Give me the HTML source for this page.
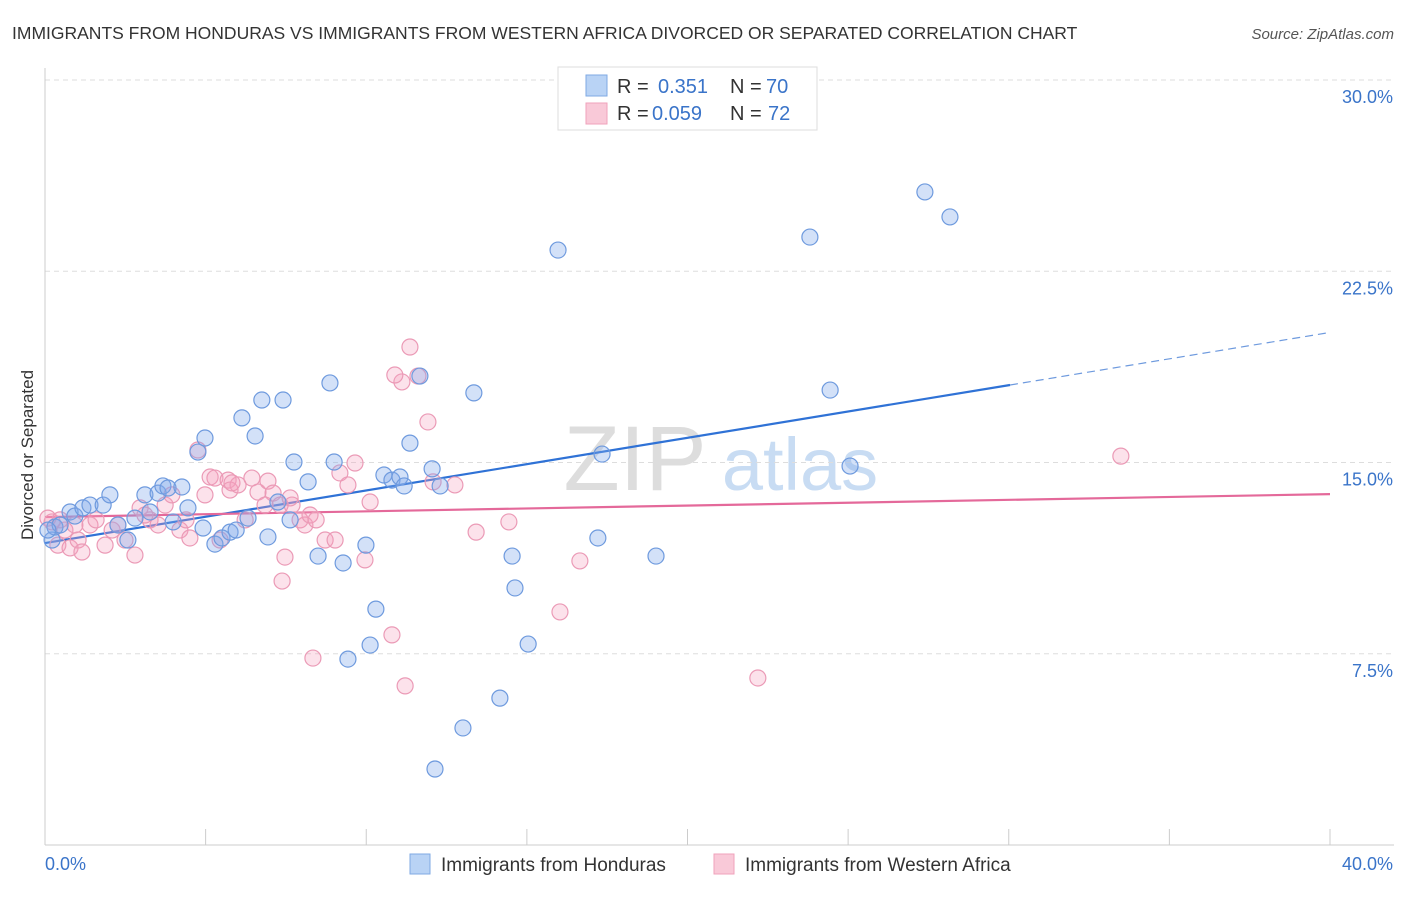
<!DOCTYPE html>
<html><head><meta charset="utf-8"><style>
body{margin:0;background:#fff;font-family:"Liberation Sans",sans-serif;}
svg text{font-family:"Liberation Sans",sans-serif;}
</style></head><body>
<svg id="chart" width="1406" height="892" viewBox="0 0 1406 892" xmlns="http://www.w3.org/2000/svg">
<text x="12" y="39" font-size="17.5" fill="#333">IMMIGRANTS FROM HONDURAS VS IMMIGRANTS FROM WESTERN AFRICA DIVORCED OR SEPARATED CORRELATION CHART</text>
<text x="1394" y="39" font-size="15" fill="#555" font-style="italic" text-anchor="end">Source: ZipAtlas.com</text>
<text x="33" y="455" font-size="17" fill="#333" text-anchor="middle" transform="rotate(-90 33 455)">Divorced or Separated</text>
<g><text x="635" y="490" font-size="92" fill="#ddd" text-anchor="middle" font-family="Liberation Serif,serif">ZIP</text><text x="800" y="490" font-size="74" fill="#c8dcf3" text-anchor="middle">atlas</text></g>
<g id="grid"></g><g id="axes"></g><g id="lines"></g><g id="pts"></g>
<g>
<rect x="558" y="67" width="259" height="63" fill="#fff" stroke="#ddd"/>
<rect x="586" y="75" width="21" height="21" fill="#b9d3f5" stroke="#7fa9e3"/>
<rect x="586" y="103" width="21" height="21" fill="#f9c9d8" stroke="#f0a2bb"/>
<text x="617" y="93" font-size="20" fill="#333">R = </text><text x="658" y="93" font-size="20" fill="#3a74c9">0.351</text>
<text x="730" y="93" font-size="20" fill="#333">N = </text><text x="766" y="93" font-size="20" fill="#3a74c9">70</text>
<text x="617" y="120" font-size="20" fill="#333">R = </text><text x="652" y="120" font-size="20" fill="#3a74c9">0.059</text>
<text x="730" y="120" font-size="20" fill="#333">N = </text><text x="768" y="120" font-size="20" fill="#3a74c9">72</text>
</g>
<g>
<rect x="410" y="854" width="20" height="20" fill="#b9d3f5" stroke="#7fa9e3"/>
<text x="441" y="871" font-size="19" fill="#333">Immigrants from Honduras</text>
<rect x="714" y="854" width="20" height="20" fill="#f9c9d8" stroke="#f0a2bb"/>
<text x="745" y="871" font-size="19" fill="#333">Immigrants from Western Africa</text>
</g>
</svg>
<script>
const yTicks=[7.5,15,22.5,30];
const yTickLabels=["7.5%","15.0%","22.5%","30.0%"];
const xTicks=[0,5,10,15,20,25,30,35,40];
const blueX=[0.22,0.31,0.47,0.78,0.93,1.18,1.40,1.81,2.02,2.27,2.58,2.80,3.11,3.27,3.52,3.67,3.83,3.99,4.26,4.45,4.76,4.98,4.92,5.29,5.51,5.76,5.95,6.13,6.32,6.54,6.75,6.94,7.25,7.41,7.63,7.75,8.19,8.50,8.87,9.00,9.28,9.43,9.99,10.30,10.12,10.55,10.80,11.05,11.18,11.36,11.67,12.05,12.30,13.35,14.54,14.63,15.04,14.16,13.01,12.14,15.97,17.21,17.34,19.02,23.81,24.44,25.06,27.39,28.17,0.09];
const blueY=[11.96,12.47,12.55,13.06,12.90,13.22,13.33,13.33,13.73,12.55,11.96,12.82,13.73,13.06,13.80,14.08,14.00,12.67,14.04,13.22,15.41,15.96,12.43,11.80,12.04,12.27,12.35,16.75,12.82,16.04,17.45,12.08,13.45,17.45,12.75,15.02,14.24,11.33,18.12,15.02,11.06,7.29,11.76,9.25,7.84,14.51,14.31,14.43,14.08,15.76,18.39,14.75,14.08,17.73,11.33,10.08,7.88,5.76,4.59,2.98,23.33,12.04,15.33,11.33,23.84,17.84,14.86,25.61,24.63,12.35];
const pinkX=[0.22,0.40,0.62,0.78,1.03,1.15,1.40,1.59,1.87,2.09,2.27,2.49,2.80,2.96,3.27,3.52,3.74,3.95,4.20,4.39,4.51,4.76,4.98,5.14,5.29,5.45,5.70,5.76,6.01,6.23,6.44,6.63,6.85,6.94,7.10,7.32,7.47,7.38,7.69,7.94,8.09,8.25,8.44,8.34,8.72,9.03,9.18,9.43,9.65,9.96,10.12,10.80,11.11,11.21,11.36,11.61,11.92,12.08,12.76,13.42,14.44,16.65,16.03,22.19,33.49,0.09,0.47,10.89,0.93,3.11,7.63,5.82];
const pinkY=[12.67,11.76,12.35,11.65,11.96,11.49,12.55,12.75,11.76,12.35,12.55,11.96,11.37,13.22,12.75,12.55,13.33,13.73,12.35,12.75,12.04,15.49,13.73,14.43,14.39,11.96,14.31,13.92,14.12,12.75,14.39,13.84,13.33,14.27,13.80,13.33,11.29,10.35,13.33,12.75,12.55,12.94,12.75,7.33,11.96,11.96,14.59,14.12,14.98,11.18,13.45,8.24,18.16,6.24,19.53,18.39,16.59,14.24,14.12,12.27,12.67,11.14,9.14,6.55,15.25,12.82,12.75,18.43,12.55,12.94,13.61,14.20];
const blueTrend=[11.84,18.04,20.1]; // at x=0, 30.04, 40
const blueTrendX=[0,30.04,40];
const pinkTrend=[12.86,13.76];
const NS="http://www.w3.org/2000/svg";
const sx=v=>45+v*32.125, sy=v=>845-v*25.5;
function mk(t,a,p){const e=document.createElementNS(NS,t);for(const k in a)e.setAttribute(k,a[k]);document.getElementById(p).appendChild(e);return e;}
yTicks.forEach((t,i)=>{
 const g=mk('line',{x1:45,x2:1394,y1:sy(t),y2:sy(t),stroke:'#ddd','stroke-dasharray':'5,4'},'grid');
 
 
 const l=mk('text',{x:1393,y:sy(t)+23,'font-size':18,fill:'#3a74c9','text-anchor':'end'},'axes');
 l.textContent=yTickLabels[i];
 
 
});
const ax=mk('line',{x1:45,x2:1394,y1:845,y2:845,stroke:'#ccc'},'axes');


const ay=mk('line',{x1:45,x2:45,y1:68,y2:845,stroke:'#ccc'},'axes');


xTicks.forEach(t=>{const k=mk('line',{x1:sx(t),x2:sx(t),y1:829,y2:845,stroke:'#ccc'},'axes');
 
 });
const x0=mk('text',{x:45,y:870,'font-size':18,fill:'#3a74c9'},'axes');x0.textContent='0.0%';


const x1=mk('text',{x:1393,y:870,'font-size':18,fill:'#3a74c9','text-anchor':'end'},'axes');x1.textContent='40.0%';


function dots(X,Y,fill,stroke,name){X.forEach((x,i)=>{const c=mk('circle',{cx:sx(x),cy:sy(Y[i]),r:8,fill:fill,stroke:stroke,'stroke-width':1.2},'pts');
 
 });}
dots(pinkX,pinkY,'rgba(244,160,190,0.3)','#eb9ab6','point-western-africa');
dots(blueX,blueY,'rgba(130,170,235,0.35)','#6e9ade','point-honduras');
const b1=mk('line',{x1:sx(blueTrendX[0]),y1:sy(blueTrend[0]),x2:sx(blueTrendX[1]),y2:sy(blueTrend[1]),stroke:'#2f72d6','stroke-width':2.2},'lines');


const b2=mk('line',{x1:sx(blueTrendX[1]),y1:sy(blueTrend[1]),x2:sx(blueTrendX[2]),y2:sy(blueTrend[2]),stroke:'#6e9ade','stroke-width':1.2,'stroke-dasharray':'8,5'},'lines');


const p1=mk('line',{x1:sx(0),y1:sy(pinkTrend[0]),x2:sx(40),y2:sy(pinkTrend[1]),stroke:'#e4699a','stroke-width':2.2},'lines');


</script>
</body></html>
